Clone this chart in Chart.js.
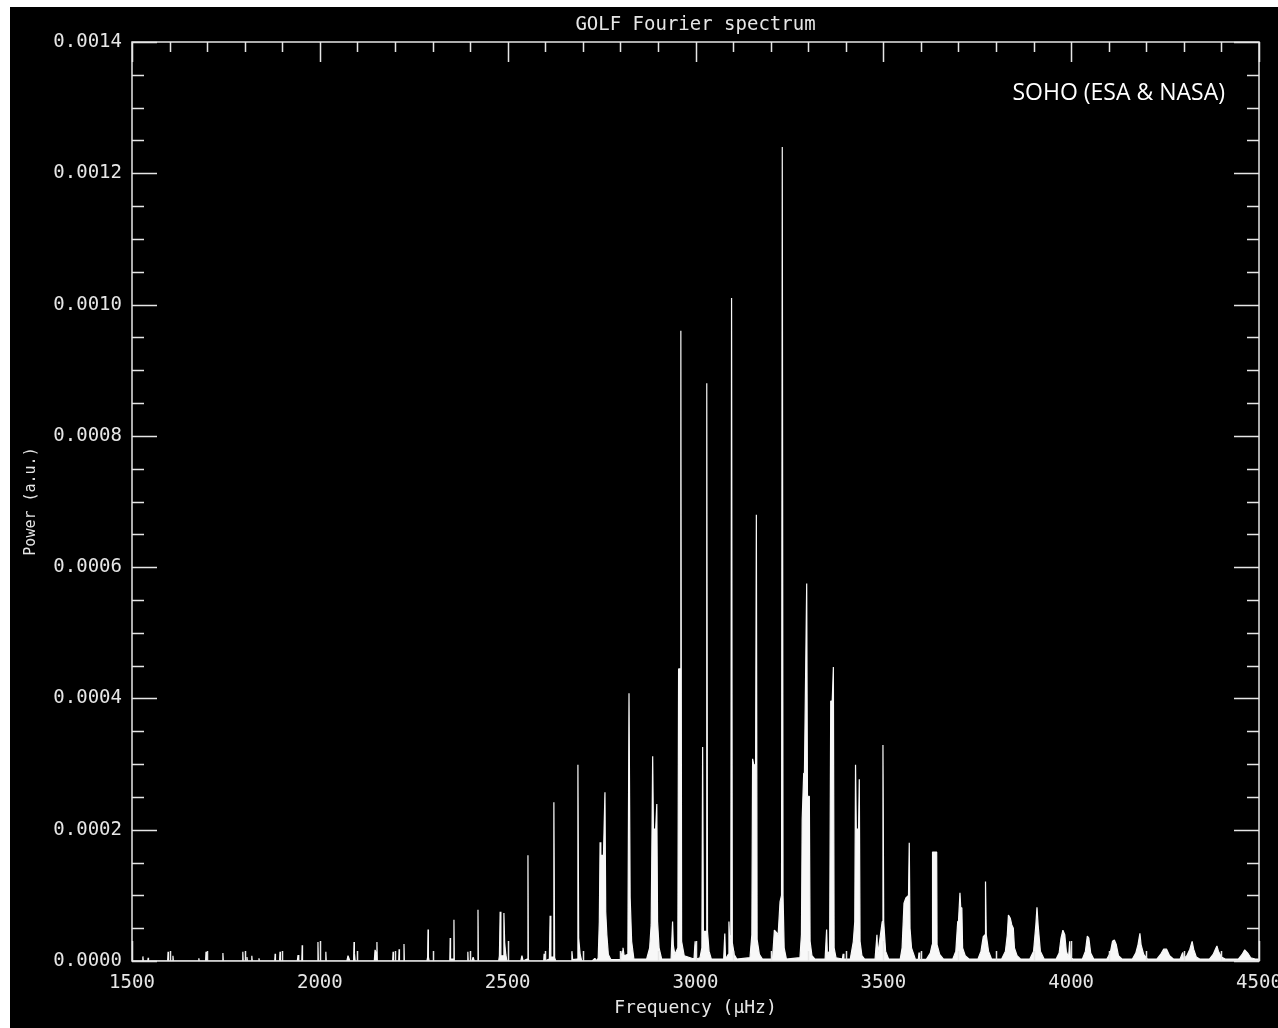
<!DOCTYPE html>
<html>
<head>
<meta charset="utf-8">
<title>GOLF Fourier spectrum</title>
<script src="https://cdn.jsdelivr.net/npm/chart.js@4.4.1/dist/chart.umd.min.js"></script>
<style>
    html, body { margin: 0; background: #fff; }
    #wrap { position: absolute; left: 10px; top: 7px; width: 1268px; height: 1021px; background: #000; }
    canvas { display: block; }
</style>
</head>
<body>
<div id="wrap"><canvas id="golf" width="1268" height="1021"></canvas></div>
<script>
// frequency in µHz, power in units of 1e-6 (a.u.), one line per mode group
const freq = [
    1500,
    1528, 1529, 1530,
    1542, 1543, 1544,
    1595, 1596, 1597,
    1608, 1609, 1610,
    1677, 1678, 1679,
    1696, 1697, 1698,
    1741, 1742, 1743,
    1794, 1795, 1796,
    1805, 1806, 1807,
    1818, 1819, 1820,
    1837, 1838, 1839,
    1880, 1881, 1882,
    1893, 1894, 1895,
    1940, 1942, 1944,
    1952, 1953, 1954,
    1994, 1995, 1996,
    2015, 2016, 2017,
    2072, 2075, 2080,
    2090, 2091, 2092, 2094,
    2145, 2147, 2151, 2152, 2153,
    2194, 2195, 2196,
    2210, 2211, 2212,
    2223, 2224, 2225,
    2285, 2287, 2288, 2289, 2291,
    2346, 2347, 2348, 2356, 2357, 2358,
    2393, 2394, 2395,
    2405, 2408, 2411,
    2420, 2421, 2422,
    2476, 2478, 2480, 2482, 2489, 2490, 2492, 2495, 2498,
    2535, 2538, 2541,
    2552, 2554, 2555, 2557,
    2596, 2597, 2598,
    2611, 2613, 2615, 2621, 2623, 2625, 2628,
    2669, 2671, 2673,
    2685, 2687, 2689, 2693, 2697,
    2725, 2732, 2738,
    2741, 2744, 2746, 2748, 2755, 2759, 2761, 2764, 2768, 2775,
    2800, 2805, 2807, 2810, 2820, 2823, 2826, 2830, 2836,
    2870, 2878, 2882, 2886, 2888, 2894, 2897, 2899, 2903, 2910,
    2935, 2939, 2941, 2945,
    2953, 2955, 2959, 2961, 2963, 2970,
    2996, 2999, 3002,
    3012, 3017, 3019, 3021, 3028, 3030, 3032, 3036, 3042,
    3075, 3078, 3080, 3087, 3089, 3091, 3094, 3096, 3098, 3103, 3110,
    3145, 3150, 3152, 3155, 3160, 3162, 3164, 3170, 3178,
    3205, 3210, 3213, 3220, 3225, 3229, 3231, 3233, 3236, 3242,
    3278, 3282, 3284, 3288, 3290, 3296, 3298, 3303, 3305, 3310, 3318,
    3345, 3349, 3351, 3357, 3360, 3364, 3367, 3369, 3374,
    3391, 3393, 3395,
    3412, 3420, 3424, 3426, 3428, 3434, 3436, 3438, 3443, 3450,
    3478, 3483, 3485, 3490, 3494, 3497, 3499, 3501, 3506, 3514,
    3545, 3550, 3555, 3560, 3567, 3569, 3571, 3575, 3585,
    3593, 3595, 3597,
    3615, 3625, 3630, 3631, 3642, 3643, 3650, 3660,
    3685, 3693, 3698, 3700, 3704, 3706, 3709, 3711, 3718, 3728,
    3752, 3760, 3766, 3771, 3772, 3774, 3780, 3788,
    3815, 3825, 3830, 3833, 3838, 3842, 3846, 3849, 3856, 3865,
    3890, 3900, 3906, 3909, 3912, 3918, 3928,
    3960, 3968, 3973, 3978, 3983, 3987, 3993, 3996, 3998, 4005,
    4030, 4038, 4043, 4047, 4052, 4060,
    4095, 4104, 4110, 4115, 4120, 4126, 4135,
    4163, 4172, 4178, 4183, 4186, 4193, 4203,
    4228, 4238, 4246, 4254, 4262, 4272,
    4290, 4297, 4299, 4308, 4316, 4322, 4326, 4333, 4342,
    4368, 4378, 4384, 4388, 4392, 4400, 4410,
    4445, 4455, 4462, 4470, 4478, 4490, 4500
];
const power = [
    0,
    0, 7, 0,
    0, 5, 0,
    0, 14, 0,
    0, 8, 0,
    0, 4, 0,
    0, 14, 0,
    0, 12, 0,
    0, 14, 0,
    0, 6, 0,
    0, 8, 0,
    0, 4, 0,
    0, 11, 0,
    0, 14, 0,
    0, 9, 0,
    0, 24, 0,
    0, 29, 0,
    0, 14, 0,
    0, 8, 0,
    0, 29, 12, 0,
    0, 17, 10, 29, 0,
    0, 14, 0,
    0, 18, 0,
    0, 26, 0,
    0, 6, 48, 6, 0,
    0, 35, 3, 3, 63, 0,
    0, 14, 0,
    0, 6, 0,
    0, 78, 0,
    0, 8, 75, 8, 8, 73, 28, 10, 0,
    0, 8, 0,
    3, 161, 3, 0,
    0, 11, 0,
    3, 69, 6, 6, 242, 5, 0,
    0, 15, 2,
    3, 299, 35, 10, 0,
    0, 4, 0,
    5, 60, 181, 161, 161, 257, 75, 40, 10, 2,
    2, 15, 20, 8, 10, 408, 97, 30, 3,
    3, 20, 55, 312, 201, 201, 239, 60, 20, 3,
    3, 60, 24, 10,
    20, 445, 445, 960, 30, 8,
    3, 30, 3,
    5, 20, 326, 45, 45, 880, 45, 15, 3,
    3, 42, 3, 10, 60, 30, 40, 1010, 28, 10, 3,
    5, 40, 308, 299, 299, 680, 33, 10, 3,
    3, 47, 45, 40, 90, 100, 1240, 100, 20, 3,
    5, 40, 215, 286, 286, 575, 251, 251, 30, 8, 3,
    3, 48, 10, 15, 396, 396, 448, 20, 5,
    3, 11, 3,
    3, 29, 60, 299, 201, 201, 277, 30, 8, 3,
    3, 40, 10, 30, 47, 60, 329, 60, 15, 3,
    3, 20, 88, 96, 100, 180, 50, 20, 3,
    2, 13, 2,
    3, 12, 25, 166, 166, 25, 10, 3,
    3, 15, 60, 60, 104, 81, 81, 20, 8, 3,
    3, 15, 37, 40, 121, 40, 15, 3,
    3, 15, 40, 70, 65, 55, 50, 20, 8, 3,
    3, 15, 55, 82, 55, 15, 3,
    3, 12, 35, 47, 40, 15, 5, 30, 5, 3,
    3, 15, 38, 35, 12, 3,
    3, 12, 30, 32, 25, 8, 3,
    3, 12, 25, 42, 25, 10, 3,
    3, 10, 18, 18, 8, 3,
    3, 13, 3, 8, 18, 30, 18, 6, 3,
    3, 10, 18, 23, 15, 6, 3,
    3, 10, 17, 12, 5, 3, 3
];

const xTicks = [1500, 2000, 2500, 3000, 3500, 4000, 4500];
const yTicks = [0, 0.0002, 0.0004, 0.0006, 0.0008, 0.0010, 0.0012, 0.0014];
const xMinorStep = 100;
const yMinorStep = 0.00005;

const INK = '#e6e6e6';
const TRACE = '#f8f8f8';
const MONO = '"DejaVu Sans Mono", monospace';

// IDL style box: frame plus inward ticks on all four sides
const frame = {
    id: 'frame',
    afterDatasetsDraw(chart) {
        const { ctx, chartArea: a, scales: { x, y } } = chart;
        ctx.save();
        ctx.strokeStyle = INK;
        ctx.lineWidth = 1.5;
        ctx.strokeRect(a.left, a.top, a.right - a.left, a.bottom - a.top);
        ctx.beginPath();
        const nx = Math.round((x.max - x.min) / xMinorStep);
        for (let i = 0; i <= nx; i++) {
            const v = x.min + i * xMinorStep;
            const len = xTicks.includes(v) ? 20 : 10;
            const px = Math.round(x.getPixelForValue(v)) + 0.5;
            ctx.moveTo(px, a.bottom); ctx.lineTo(px, a.bottom - len);
            ctx.moveTo(px, a.top); ctx.lineTo(px, a.top + len);
        }
        const ny = Math.round((y.max - y.min) / yMinorStep);
        for (let i = 0; i <= ny; i++) {
            const len = i % 4 === 0 ? 25 : 12;
            const py = Math.round(y.getPixelForValue(i * yMinorStep)) + 0.5;
            ctx.moveTo(a.left, py); ctx.lineTo(a.left + len, py);
            ctx.moveTo(a.right, py); ctx.lineTo(a.right - len, py);
        }
        ctx.stroke();

        ctx.fillStyle = '#ffffff';
        ctx.font = '23px "Open Sans", sans-serif';
        ctx.textAlign = 'right';
        ctx.textBaseline = 'alphabetic';
        ctx.fillText('SOHO (ESA & NASA)', 1215, 93);
        ctx.restore();
    }
};

const ctx = document.getElementById('golf');
new Chart(ctx, {
    type: 'line',
    data: {
        datasets: [{
            label: 'GOLF',
            data: freq.map((f, i) => ({ x: f, y: power[i] * 1e-6 })),
            borderColor: TRACE,
            backgroundColor: TRACE,
            borderWidth: 1.2,
            borderJoinStyle: 'bevel',
            fill: 'origin',
            pointRadius: 0,
            tension: 0
        }]
    },
    options: {
        responsive: false,
        animation: false,
        devicePixelRatio: 1,
        layout: { padding: { left: 0, right: 19, top: 0, bottom: 0 } },
        plugins: {
            legend: { display: false },
            tooltip: { enabled: false },
            title: {
                display: true,
                fullSize: false,
                text: 'GOLF Fourier spectrum',
                color: INK,
                font: { family: MONO, size: 19, weight: 'normal' },
                padding: { top: 7, bottom: 5.2 }
            }
        },
        scales: {
            x: {
                type: 'linear',
                min: 1500,
                max: 4500,
                afterBuildTicks: s => { s.ticks = xTicks.map(v => ({ value: v })); },
                afterFit: s => { s.height = 67; s.paddingLeft = 0; s.paddingRight = 0; },
                grid: { display: false, drawTicks: false },
                border: { display: false },
                ticks: {
                    color: INK,
                    font: { family: MONO, size: 19 },
                    padding: 11,
                    maxRotation: 0,
                    autoSkip: false,
                    callback: v => String(v)
                },
                title: {
                    display: true,
                    text: 'Frequency (μHz)',
                    color: INK,
                    font: { family: MONO, size: 18 },
                    padding: { top: 0, bottom: 9 }
                }
            },
            y: {
                type: 'linear',
                min: 0,
                max: 0.0014,
                afterBuildTicks: s => { s.ticks = yTicks.map(v => ({ value: v })); },
                afterFit: s => { s.width = 122; s.paddingTop = 0; s.paddingBottom = 0; },
                grid: { display: false, drawTicks: false },
                border: { display: false },
                ticks: {
                    color: INK,
                    font: { family: MONO, size: 19 },
                    padding: 10,
                    autoSkip: false,
                    callback: v => v.toFixed(4)
                },
                title: {
                    display: true,
                    text: 'Power (a.u.)',
                    color: INK,
                    font: { family: MONO, size: 15 },
                    padding: { top: 12, bottom: 0 }
                }
            }
        }
    },
    plugins: [frame]
});
</script>
</body>
</html>
